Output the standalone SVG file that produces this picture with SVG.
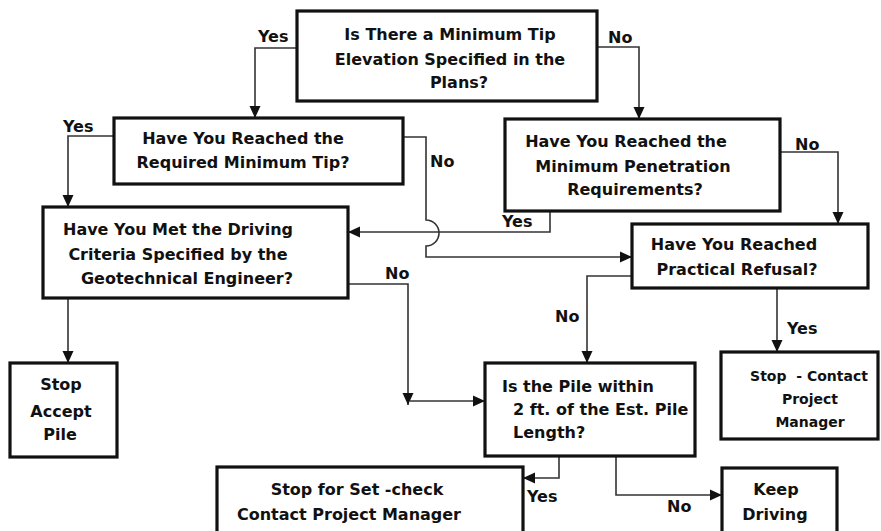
<svg xmlns="http://www.w3.org/2000/svg" width="881" height="531" viewBox="0 0 881 531">
<style>
.box{fill:#fff;stroke:#111;stroke-width:3.2}
.t{font-family:"DejaVu Sans","Liberation Sans",sans-serif;font-weight:bold;font-size:16px;fill:#111}
.s{font-size:14px}
.m{text-anchor:middle}
.c{fill:none;stroke:#333;stroke-width:1.6}
</style>
<defs>
<marker id="ah" markerUnits="userSpaceOnUse" markerWidth="12" markerHeight="12" viewBox="0 0 12 12" refX="12" refY="6" orient="auto">
<path d="M0,0.5 L12,6 L0,11.5 Z" fill="#111"/>
</marker>
</defs>
<rect width="881" height="531" fill="#fff"/>
<g id="connectors">
<path class="c" d="M297,48 H255 V118" marker-end="url(#ah)"/>
<path class="c" d="M597,47 H639 V119" marker-end="url(#ah)"/>
<path class="c" d="M114,136 H68 V207" marker-end="url(#ah)"/>
<path class="c" d="M403,137 H426 V220 A13,13 0 0 1 426,246 V257 H632" marker-end="url(#ah)"/>
<path class="c" d="M550,211 V232 H348" marker-end="url(#ah)"/>
<path class="c" d="M780,152 H838 V224" marker-end="url(#ah)"/>
<path class="c" d="M68,298 V363" marker-end="url(#ah)"/>
<path class="c" d="M348,284 H408 V405" marker-end="url(#ah)"/>
<path class="c" d="M410,401 H485" marker-end="url(#ah)"/>
<path class="c" d="M632,276 H587 V363" marker-end="url(#ah)"/>
<path class="c" d="M777,288 V352" marker-end="url(#ah)"/>
<path class="c" d="M559,456 V478 H523" marker-end="url(#ah)"/>
<path class="c" d="M616,456 V495 H722" marker-end="url(#ah)"/>
<text class="t" x="258" y="42">Yes</text>
<text class="t" x="608" y="43">No</text>
<text class="t" x="63" y="132">Yes</text>
<text class="t" x="430" y="167">No</text>
<text class="t" x="502" y="227">Yes</text>
<text class="t" x="795" y="150">No</text>
<text class="t" x="385" y="279">No</text>
<text class="t" x="555" y="322">No</text>
<text class="t" x="787" y="334">Yes</text>
<text class="t" x="527" y="502">Yes</text>
<text class="t" x="667" y="512">No</text>
</g>
<g id="q1">
<rect class="box" x="297" y="11" width="300" height="90"/>
<text class="t m" x="450" y="40">Is There a Minimum Tip</text>
<text class="t m" x="450" y="65">Elevation Specified in the</text>
<text class="t m" x="459" y="88">Plans?</text>
</g>
<g id="q2">
<rect class="box" x="114" y="118" width="289" height="66"/>
<text class="t m" x="243" y="144">Have You Reached the</text>
<text class="t m" x="243" y="168">Required Minimum Tip?</text>
</g>
<g id="q3">
<rect class="box" x="505" y="119" width="275" height="92"/>
<text class="t m" x="626" y="147">Have You Reached the</text>
<text class="t m" x="633" y="172">Minimum Penetration</text>
<text class="t m" x="635" y="195">Requirements?</text>
</g>
<g id="q4">
<rect class="box" x="43" y="207" width="305" height="91"/>
<text class="t m" x="178" y="235">Have You Met the Driving</text>
<text class="t m" x="178" y="260">Criteria Specified by the</text>
<text class="t m" x="187" y="284">Geotechnical Engineer?</text>
</g>
<g id="q5">
<rect class="box" x="632" y="224" width="236" height="64"/>
<text class="t m" x="734" y="250">Have You Reached</text>
<text class="t m" x="737" y="275">Practical Refusal?</text>
</g>
<g id="stop-accept">
<rect class="box" x="10" y="363" width="107" height="94"/>
<text class="t m" x="61" y="390">Stop</text>
<text class="t m" x="61" y="417">Accept</text>
<text class="t m" x="60" y="440">Pile</text>
</g>
<g id="q6">
<rect class="box" x="485" y="363" width="210" height="93"/>
<text class="t" x="502" y="392">Is the Pile within</text>
<text class="t" x="513" y="415">2 ft. of the Est. Pile</text>
<text class="t" x="513" y="438">Length?</text>
</g>
<g id="stop-contact">
<rect class="box" x="721" y="352" width="157" height="87"/>
<text class="t s m" x="809" y="381" xml:space="preserve">Stop  - Contact</text>
<text class="t s m" x="810" y="404">Project</text>
<text class="t s m" x="810" y="427">Manager</text>
</g>
<g id="stop-setcheck">
<rect class="box" x="217" y="467" width="306" height="75"/>
<text class="t m" x="357" y="495">Stop for Set -check</text>
<text class="t m" x="349" y="520">Contact Project Manager</text>
</g>
<g id="keep-driving">
<rect class="box" x="722" y="468" width="115" height="74"/>
<text class="t m" x="776" y="495">Keep</text>
<text class="t m" x="775" y="520">Driving</text>
</g>
</svg>
